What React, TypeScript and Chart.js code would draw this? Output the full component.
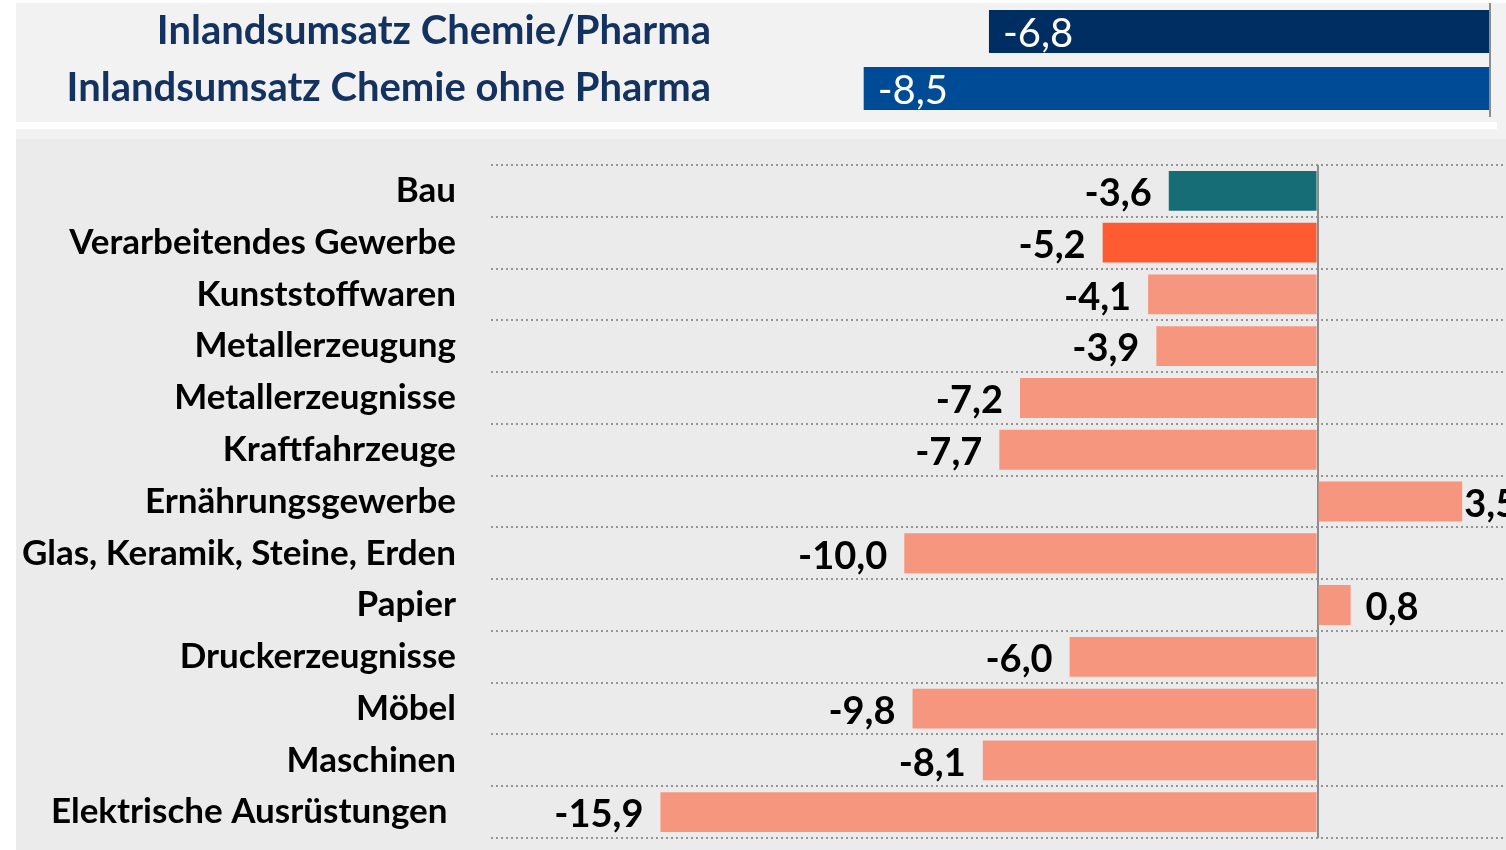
import React, { useEffect, useRef } from "react";
import { Chart, registerables } from "chart.js";

Chart.register(...registerables);

const topCategories = ["Inlandsumsatz Chemie/Pharma", "Inlandsumsatz Chemie ohne Pharma"];
const topValues = [-6.8, -8.5];

const categories = [
  "Bau",
  "Verarbeitendes Gewerbe",
  "Kunststoffwaren",
  "Metallerzeugung",
  "Metallerzeugnisse",
  "Kraftfahrzeuge",
  "Ernährungsgewerbe",
  "Glas, Keramik, Steine, Erden",
  "Papier",
  "Druckerzeugnisse",
  "Möbel",
  "Maschinen",
  "Elektrische Ausrüstungen ",
];
const values = [-3.6, -5.2, -4.1, -3.9, -7.2, -7.7, 3.5, -10.0, 0.8, -6.0, -9.8, -8.1, -15.9];

const FONT = "Lato, 'Open Sans', sans-serif";
const TOP_COLORS = ["#002d62", "#004b96"];
const fmt = (v: number) => v.toFixed(1).replace(".", ",");

const barColor = (i: number) => (i === 0 ? "#176d75" : i === 1 ? "#ff5b33" : "#f7967e");

const zeroGrid = {
  display: true,
  drawTicks: false,
  color: (ctx: any) => (ctx.tick && ctx.tick.value === 0 ? "#8c8c8c" : "rgba(0,0,0,0)"),
  lineWidth: (ctx: any) => (ctx.tick && ctx.tick.value === 0 ? 2 : 0),
};

const topLabelPlugin = {
  id: "topLabels",
  afterDatasetsDraw(chart: any) {
    const { ctx } = chart;
    const meta = chart.getDatasetMeta(0);
    ctx.save();
    ctx.font = `40px ${FONT}`;
    ctx.fillStyle = "#ffffff";
    ctx.textAlign = "left";
    ctx.textBaseline = "middle";
    meta.data.forEach((bar: any, i: number) => {
      const v = chart.data.datasets[0].data[i] as number;
      const left = Math.min(bar.x, bar.base);
      ctx.fillText(fmt(v), left + 14, bar.y + 3);
    });
    ctx.restore();
  },
};

const valueLabelPlugin = {
  id: "valueLabels",
  afterDatasetsDraw(chart: any) {
    const { ctx } = chart;
    const meta = chart.getDatasetMeta(0);
    ctx.save();
    ctx.font = `bold 38px ${FONT}`;
    ctx.fillStyle = "#000000";
    ctx.textBaseline = "middle";
    meta.data.forEach((bar: any, i: number) => {
      const v = chart.data.datasets[0].data[i] as number;
      const text = fmt(v);
      if (v < 0) {
        ctx.textAlign = "right";
        ctx.fillText(text, bar.x - 17, bar.y + 3);
      } else {
        ctx.textAlign = "left";
        const w = ctx.measureText(text).width;
        let x = bar.x + 15;
        if (x + w > chart.width) x = bar.x + 2;
        ctx.fillText(text, x, bar.y + 3);
      }
    });
    ctx.restore();
  },
};

function TopChart() {
  const ref = useRef<HTMLCanvasElement>(null);
  useEffect(() => {
    if (!ref.current) return;
    const chart = new Chart(ref.current, {
      type: "bar",
      data: {
        labels: topCategories,
        datasets: [
          {
            data: topValues,
            backgroundColor: TOP_COLORS,
            borderWidth: 0,
            barPercentage: 0.754,
            categoryPercentage: 1,
          },
        ],
      },
      options: {
        indexAxis: "y",
        responsive: false,
        animation: false,
        devicePixelRatio: 1,
        layout: { padding: { top: 0, bottom: 5, left: 0, right: 16 } },
        plugins: { legend: { display: false }, tooltip: { enabled: false } },
        scales: {
          x: {
            min: -10.45,
            max: 0,
            ticks: { display: false, stepSize: 2 },
            grid: zeroGrid as any,
            border: { display: false },
            afterFit: (scale: any) => {
              scale.height = 0;
              scale.paddingLeft = 0;
              scale.paddingRight = 0;
            },
          },
          y: {
            grid: { display: false, drawTicks: false },
            border: { display: false },
            ticks: {
              padding: 9,
              color: "#14325f",
              font: { family: FONT, size: 40, weight: "bold" },
            },
            afterFit: (scale: any) => {
              scale.width = 704;
              scale.paddingTop = 0;
              scale.paddingBottom = 0;
            },
          },
        },
      },
      plugins: [topLabelPlugin],
    });
    return () => chart.destroy();
  }, []);
  return (
    <canvas
      ref={ref}
      width={1490}
      height={119}
      style={{ position: "absolute", left: 16, top: 3, width: 1490, height: 119 }}
    />
  );
}

function MainChart() {
  const ref = useRef<HTMLCanvasElement>(null);
  useEffect(() => {
    if (!ref.current) return;
    const chart = new Chart(ref.current, {
      type: "bar",
      data: {
        labels: categories,
        datasets: [
          {
            data: values,
            backgroundColor: values.map((_, i) => barColor(i)),
            borderWidth: 0,
            barPercentage: 0.77,
            categoryPercentage: 1,
          },
        ],
      },
      options: {
        indexAxis: "y",
        responsive: false,
        animation: false,
        devicePixelRatio: 1,
        layout: { padding: { top: 26, bottom: 12, left: 0, right: 0 } },
        plugins: { legend: { display: false }, tooltip: { enabled: false } },
        scales: {
          x: {
            min: -20,
            max: 4.56,
            ticks: { display: false, stepSize: 5 },
            grid: zeroGrid as any,
            border: { display: false },
            afterFit: (scale: any) => {
              scale.height = 0;
              scale.paddingLeft = 0;
              scale.paddingRight = 0;
            },
          },
          y: {
            grid: {
              display: true,
              drawTicks: false,
              offset: true,
              color: "#959595",
              lineWidth: 2,
            },
            border: { display: false, dash: [2, 3] },
            ticks: {
              padding: 35,
              color: "#000000",
              font: { family: FONT, size: 35, weight: "bold" },
            },
            afterFit: (scale: any) => {
              scale.width = 475;
              scale.paddingTop = 0;
              scale.paddingBottom = 0;
            },
          },
        },
      },
      plugins: [valueLabelPlugin],
    });
    return () => chart.destroy();
  }, []);
  return (
    <canvas
      ref={ref}
      width={1490}
      height={711}
      style={{ position: "absolute", left: 16, top: 139, width: 1490, height: 711, background: "#ebebeb" }}
    />
  );
}

export default function App() {
  useEffect(() => {
    document.body.style.margin = "0";
  }, []);
  return (
    <div style={{ position: "absolute", left: 0, top: 0, width: 1506, height: 850, overflow: "hidden", background: "#ffffff" }}>
      <div style={{ position: "absolute", left: 16, top: 3, width: 1490, height: 847, background: "#f2f2f2" }} />
      <div style={{ position: "absolute", left: 16, top: 122, width: 1481, height: 7, background: "#ffffff" }} />
      <TopChart />
      <MainChart />
    </div>
  );
}
